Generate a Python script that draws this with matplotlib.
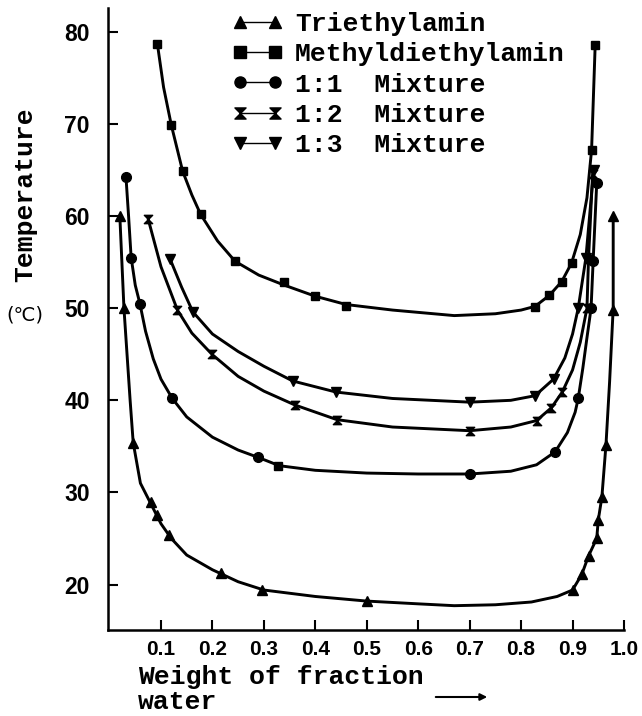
import numpy as np
import matplotlib
matplotlib.use("Agg")
import matplotlib.pyplot as plt
from matplotlib.path import Path
from matplotlib.lines import Line2D

# marker positions (x = weight fraction water, y = temperature)
tea_x = [0.020, 0.028, 0.046, 0.081, 0.093, 0.116, 0.216, 0.296, 0.500,
         0.901, 0.918, 0.931, 0.947, 0.950, 0.957, 0.965, 0.979, 0.979]
tea_y = [60.0, 50.0, 35.4, 29.0, 27.5, 25.4, 21.3, 19.4, 18.2,
         19.4, 21.1, 23.1, 25.0, 27.0, 29.5, 35.2, 49.8, 60.0]

mdea_x = [0.093, 0.120, 0.142, 0.177, 0.244, 0.340, 0.400, 0.460,
          0.827, 0.855, 0.879, 0.898, 0.937, 0.944]
mdea_y = [78.7, 69.9, 64.9, 60.2, 55.1, 52.8, 51.3, 50.2,
          50.1, 51.4, 52.9, 54.9, 67.2, 78.6]

mix11_x = [0.032, 0.042, 0.059, 0.122, 0.289, 0.700, 0.866, 0.911, 0.936, 0.940, 0.947]
mix11_y = [64.2, 55.5, 50.5, 40.2, 33.8, 32.0, 34.4, 40.2, 50.0, 55.1, 63.6]
mix11_sq_x = [0.328]
mix11_sq_y = [32.9]

mix12_x = [0.075, 0.132, 0.199, 0.360, 0.442, 0.700, 0.830, 0.859, 0.880, 0.928, 0.931, 0.939]
mix12_y = [59.7, 49.8, 45.0, 39.5, 37.9, 36.7, 37.8, 39.2, 40.9, 50.0, 55.3, 64.6]

mix13_x = [0.118, 0.162, 0.356, 0.440, 0.700, 0.827, 0.863, 0.911, 0.926, 0.941]
mix13_y = [55.3, 49.6, 42.1, 40.9, 39.8, 40.5, 42.3, 50.0, 55.5, 65.0]

# hand-drawn smooth curves
tea_cx = [0.020, 0.024, 0.028, 0.034, 0.040, 0.046, 0.060, 0.080, 0.100, 0.120, 0.150,
          0.200, 0.250, 0.300, 0.400, 0.500, 0.600, 0.670, 0.750, 0.820, 0.870, 0.900,
          0.918, 0.931, 0.947, 0.950, 0.957, 0.965, 0.972, 0.979, 0.979]
tea_cy = [60.0, 55.0, 50.0, 45.0, 40.0, 35.4, 31.0, 28.8, 26.6, 25.0, 23.2,
          21.6, 20.3, 19.4, 18.7, 18.2, 17.9, 17.7, 17.8, 18.1, 18.7, 19.4,
          21.1, 23.1, 25.0, 27.0, 29.5, 35.2, 42.0, 50.0, 60.0]

mdea_cx = [0.093, 0.105, 0.120, 0.142, 0.160, 0.177, 0.210, 0.244, 0.290, 0.340, 0.400,
           0.460, 0.550, 0.670, 0.750, 0.800, 0.827, 0.855, 0.879, 0.898, 0.915, 0.928,
           0.937, 0.944]
mdea_cy = [78.7, 74.0, 69.9, 64.9, 62.3, 60.2, 57.3, 55.1, 53.6, 52.5, 51.3,
           50.4, 49.8, 49.2, 49.4, 49.8, 50.2, 51.4, 52.9, 54.9, 58.0, 62.0,
           67.2, 78.6]

mix11_cx = [0.032, 0.037, 0.042, 0.050, 0.059, 0.070, 0.085, 0.100, 0.122, 0.150, 0.200,
            0.250, 0.289, 0.330, 0.400, 0.500, 0.600, 0.700, 0.780, 0.830, 0.866, 0.890,
            0.905, 0.911, 0.920, 0.928, 0.936, 0.940, 0.947]
mix11_cy = [64.2, 60.0, 55.5, 52.5, 50.5, 47.5, 44.5, 42.3, 40.2, 38.2, 36.0,
            34.6, 33.8, 32.9, 32.4, 32.1, 32.0, 32.0, 32.3, 33.0, 34.4, 36.5,
            38.7, 40.2, 43.5, 46.8, 50.0, 55.1, 63.6]

mix12_cx = [0.075, 0.100, 0.132, 0.160, 0.199, 0.250, 0.300, 0.360, 0.442, 0.550, 0.700,
            0.780, 0.830, 0.859, 0.880, 0.900, 0.915, 0.928, 0.931, 0.939]
mix12_cy = [59.7, 54.5, 49.8, 47.3, 45.0, 42.6, 41.0, 39.5, 37.9, 37.1, 36.7,
            37.1, 37.8, 39.2, 40.9, 43.3, 46.3, 50.0, 55.3, 64.6]

mix13_cx = [0.118, 0.140, 0.162, 0.200, 0.250, 0.300, 0.356, 0.440, 0.550, 0.700, 0.780,
            0.827, 0.863, 0.885, 0.900, 0.911, 0.926, 0.941]
mix13_cy = [55.3, 52.3, 49.6, 47.2, 45.3, 43.7, 42.1, 40.9, 40.2, 39.8, 40.0,
            40.5, 42.3, 44.6, 47.2, 50.0, 55.5, 65.0]

labels = ["Triethylamin", "Methyldiethylamin", "1:1  Mixture", "1:2  Mixture", "1:3  Mixture"]
xticks = [0.1, 0.2, 0.3, 0.4, 0.5, 0.6, 0.7, 0.8, 0.9, 1.0]
xticklabels = ["0.1", "0.2", "0.3", "0.4", "0.5", "0.6", "0.7", "0.8", "0.9", "1.0"]
yticks = [20, 30, 40, 50, 60, 70, 80]

hourglass = Path([(-1, 1), (1, 1), (-1, -1), (1, -1), (-1, 1)],
                 [Path.MOVETO, Path.LINETO, Path.LINETO, Path.LINETO, Path.CLOSEPOLY])

mono = ["Liberation Mono", "DejaVu Sans"]
fs = 19

fig = plt.figure(figsize=(6.42, 7.16), dpi=100)
ax = fig.add_axes([108 / 642, 86 / 716, 516 / 642, 622 / 716])

curves = [(tea_cx, tea_cy), (mdea_cx, mdea_cy), (mix11_cx, mix11_cy),
          (mix12_cx, mix12_cy), (mix13_cx, mix13_cy)]
points = [(tea_x, tea_y, "^", 7), (mdea_x, mdea_y, "s", 6), (mix11_x, mix11_y, "o", 7),
          (mix12_x, mix12_y, hourglass, 6), (mix13_x, mix13_y, "v", 7)]

for (cx, cy) in curves:
    ax.plot(cx, cy, color="black", lw=2.1, solid_capstyle="round")
for (px, py, m, ms) in points:
    ax.plot(px, py, ls="none", marker=m, ms=ms, color="black")
ax.plot(mix11_sq_x, mix11_sq_y, ls="none", marker="s", ms=6, color="black")

ax.set_xlim(-0.003, 1.0)
ax.set_ylim(15.06, 82.6)
ax.spines["top"].set_visible(False)
ax.spines["right"].set_visible(False)
ax.spines["left"].set_linewidth(1.8)
ax.spines["bottom"].set_linewidth(1.8)
ax.set_xticks(xticks)
ax.set_xticklabels(xticklabels, family="Liberation Sans", fontsize=15, fontweight="bold")
ax.set_yticks(yticks)
ax.set_yticklabels([str(v) for v in yticks], family="Liberation Sans", fontsize=16.5,
                   fontweight="bold")
ax.tick_params(axis="both", direction="in", length=7, width=1.5)
ax.tick_params(axis="y", pad=13)
ax.tick_params(axis="x", pad=7)

handles = []
for (px, py, m, ms) in points:
    handles.append(Line2D([0], [0], color="black", lw=1.0, marker=m, ms=8))
fig.legend(handles, labels, loc="upper left", bbox_to_anchor=(232 / 642, 1 - 12 / 716),
           frameon=False, numpoints=2, handlelength=1.93, handletextpad=0.45,
           labelspacing=0.24, borderpad=0, borderaxespad=0,
           prop={"family": mono, "size": fs, "weight": "bold"})

fig.text(25 / 642, 1 - 195 / 716, "Temperature", rotation=90, ha="center", va="center",
         family=mono, fontsize=fs, fontweight="bold")
fig.text(25 / 642, 1 - 315 / 716, "(℃)", ha="center", va="center",
         family="DejaVu Sans", fontsize=14)
fig.text(138 / 642, 1 - 684 / 716, "Weight of fraction", ha="left", va="baseline",
         family=mono, fontsize=fs, fontweight="bold")
fig.text(138 / 642, 1 - 709 / 716, "water", ha="left", va="baseline",
         family=mono, fontsize=fs, fontweight="bold")
ax.annotate("", xy=(490 / 642, 1 - 697 / 716), xytext=(433 / 642, 1 - 697 / 716),
            xycoords="figure fraction", textcoords="figure fraction",
            arrowprops=dict(arrowstyle="-|>", color="black", lw=1.5, mutation_scale=10))

fig.savefig("out.png", dpi=100)
